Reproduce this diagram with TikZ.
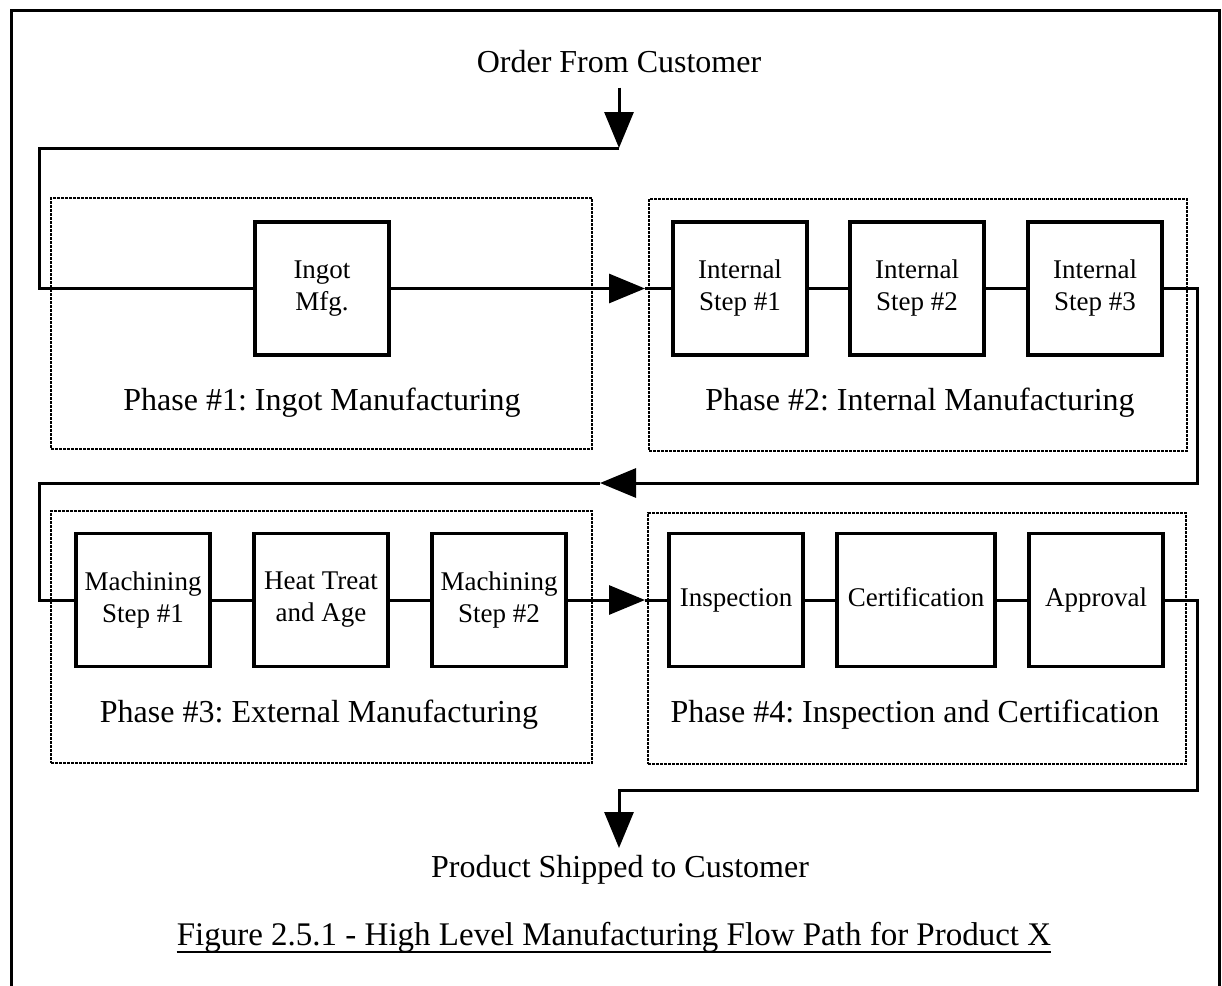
\documentclass[tikz,border=0pt]{standalone}
\usepackage{fontspec}
\setmainfont{Liberation Serif}
\usetikzlibrary{arrows.meta}
\frenchspacing
\begin{document}
\begin{tikzpicture}[x=1pt,y=-1pt,
  stepbox/.style={draw, line width=3.5pt, minimum width=134pt, minimum height=133pt,
    align=center, inner sep=2pt, font=\fontsize{27pt}{32pt}\selectfont},
  onebox/.style={stepbox, text height=19pt, text depth=6pt},
  phasebox/.style={draw, line width=2pt, dash pattern=on 3pt off 1pt,
    anchor=north west, inner sep=0pt},
  conn/.style={line width=3pt},
  arr/.style={conn, -{Triangle[length=36pt,width=29pt]}},
  lbl/.style={font=\fontsize{32pt}{38pt}\selectfont, anchor=base, inner sep=0pt},
  frame/.style={line width=3pt}
]
\useasboundingbox (0,0) rectangle (1222,985);
% outer frame
\draw[frame] (11,990) -- (11,10) -- (1219,10) -- (1219,990);

% phase boxes
\node[phasebox, minimum width=541pt, minimum height=251pt] (p1) at (50,197) {};
\node[phasebox, minimum width=538pt, minimum height=252pt] (p2) at (648,198) {};
\node[phasebox, minimum width=541pt, minimum height=252pt] (p3) at (50,510) {};
\node[phasebox, minimum width=538pt, minimum height=251pt] (p4) at (647,512) {};

% phase labels
\node[lbl] (l1) at (322,410) {Phase \#1: Ingot Manufacturing};
\node[lbl] (l2) at (920,410) {Phase \#2: Internal Manufacturing};
\node[lbl] (l3) at (319,722) {Phase \#3: External Manufacturing};
\node[lbl] (l4) at (915,722) {Phase \#4: Inspection and Certification};

% step boxes
\node[stepbox] (ingot) at (322,288.5) {Ingot\\Mfg.};
\node[stepbox] (s1) at (740,288.5) {Internal\\Step \#1};
\node[stepbox] (s2) at (917,288.5) {Internal\\Step \#2};
\node[stepbox] (s3) at (1095,288.5) {Internal\\Step \#3};

\node[stepbox] (m1) at (143,600) {Machining\\Step \#1};
\node[stepbox] (heat) at (321,600) {Heat Treat\\and Age};
\node[stepbox] (m2) at (499,600) {Machining\\Step \#2};
\node[onebox] (insp) at (736,600) {Inspection};
\node[onebox, minimum width=158pt] (cert) at (916,600) {Certification};
\node[onebox] (appr) at (1096,600) {Approval};

% texts
\node[lbl] (order) at (619,72) {Order From Customer};
\node[lbl] (prod) at (620,877) {Product Shipped to Customer};
\node[lbl, font=\fontsize{33pt}{40pt}\selectfont] (cap) at (614,945)
  {Figure 2.5.1 - High Level Manufacturing Flow Path for Product X};
\draw[line width=2.5pt] ([yshift=-7pt]cap.base west) -- ([yshift=-7pt]cap.base east);

% coordinates
\coordinate (c0) at (619,148);
\coordinate (c1) at (39,148);
\coordinate (c2) at (39,288.5);
\coordinate (t1) at (645,288.5);
\coordinate (c3) at (1197,288.5);
\coordinate (c4) at (1197,483);
\coordinate (t2) at (600,483);
\coordinate (c5) at (39,483);
\coordinate (c6) at (39,600);
\coordinate (t3) at (645,600);
\coordinate (c7) at (1197,600);
\coordinate (c8) at (1197,790);
\coordinate (c9) at (619,790);
\coordinate (t4) at (619,848);

% connectors
\draw[arr] ([yshift=-15pt]order.south) -- (c0);
\draw[conn] (c0) -- (c1) -- (c2) -- (ingot.west);
\draw[arr] (ingot.east) -- (t1);
\draw[conn] (t1) -- (s1.west);
\draw[conn] (s1) -- (s2);
\draw[conn] (s2) -- (s3);
\draw[arr] (s3.east) -- (c3) -- (c4) -- (t2);
\draw[conn] (t2) -- (c5) -- (c6) -- (m1.west);
\draw[conn] (m1) -- (heat);
\draw[conn] (heat) -- (m2);
\draw[arr] (m2.east) -- (t3);
\draw[conn] (t3) -- (insp.west);
\draw[conn] (insp) -- (cert);
\draw[conn] (cert) -- (appr);
\draw[arr] (appr.east) -- (c7) -- (c8) -- (c9) -- (t4);
\end{tikzpicture}
\end{document}
